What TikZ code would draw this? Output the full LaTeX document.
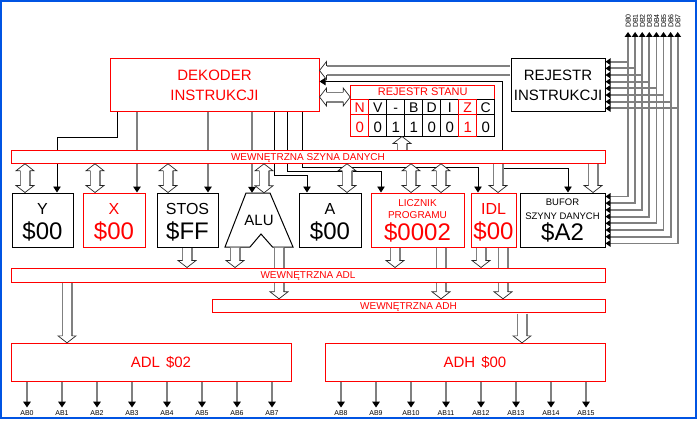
\documentclass[tikz,border=0pt]{standalone}
\usepackage{fontspec}
\setmainfont{Liberation Sans}
\usetikzlibrary{arrows.meta,calc}

\definecolor{ramka}{RGB}{0,84,227}
\newcommand{\fs}[1]{\fontsize{#1}{#1}\selectfont}

% wide bus arrow, head at #2
\newcommand{\fatarrow}[2]{%
  \path ($(#1)!0.5pt!(#2)$) coordinate (ta) ($(#2)!7pt!(#1)$) coordinate (hb);
  \path ($(ta)!4.7pt!90:(#2)$) coordinate (s1) ($(ta)!4.7pt!-90:(#2)$) coordinate (s2)
        ($(hb)!4.7pt!90:(#2)$) coordinate (b1) ($(hb)!4.7pt!-90:(#2)$) coordinate (b2)
        ($(hb)!9pt!90:(#2)$) coordinate (c1) ($(hb)!9pt!-90:(#2)$) coordinate (c2);
  \fill[white] (s1) -- (b1) -- (c1) -- (#2) -- (c2) -- (b2) -- (s2) -- cycle;
  \draw[shaft] (s1) -- (b1) (s2) -- (b2);
  \draw[head] (b1) -- (c1) -- (#2) -- (c2) -- (b2);
}
% wide bus arrow, heads at both ends
\newcommand{\fatboth}[2]{%
  \path ($(#1)!7pt!(#2)$) coordinate (ha) ($(#2)!7pt!(#1)$) coordinate (hb);
  \path ($(ha)!4.7pt!90:(#2)$) coordinate (a1) ($(ha)!4.7pt!-90:(#2)$) coordinate (a2)
        ($(ha)!9pt!90:(#2)$) coordinate (d1) ($(ha)!9pt!-90:(#2)$) coordinate (d2)
        ($(hb)!4.7pt!90:(#2)$) coordinate (b1) ($(hb)!4.7pt!-90:(#2)$) coordinate (b2)
        ($(hb)!9pt!90:(#2)$) coordinate (c1) ($(hb)!9pt!-90:(#2)$) coordinate (c2);
  \fill[white] (#1) -- (d1) -- (a1) -- (b1) -- (c1) -- (#2) -- (c2) -- (b2) -- (a2) -- (d2) -- cycle;
  \draw[shaft] (a1) -- (b1) (a2) -- (b2);
  \draw[head] (a1) -- (d1) -- (#1) -- (d2) -- (a2) (b1) -- (c1) -- (#2) -- (c2) -- (b2);
}

\tikzset{
  >={Triangle[length=6pt,width=7.5pt,color=black]},
  box/.style={draw=black, line width=1pt, fill=white, inner sep=0pt},
  rbox/.style={box, draw=red, text=red},
  bus/.style={rbox, font=\fs{10}, text height=7.2pt, text depth=0pt},
  cell/.style={box, minimum width=18pt, minimum height=15pt, font=\fs{14}, text height=12.4pt, text depth=0pt},
  val/.style={box, minimum width=18pt, minimum height=22pt, font=\fs{15}, text height=14.5pt, text depth=0pt},
  txt/.style={inner sep=0pt, anchor=base},
  ctl/.style={draw=black, line width=0.8pt},
  gline/.style={draw=gray, line width=1.8pt},
  shaft/.style={draw=gray, line width=1.6pt},
  head/.style={draw=black!85, line width=0.7pt},
}

\begin{document}
\begin{tikzpicture}[x=1pt,y=-1pt]
\useasboundingbox (0,0) rectangle (698,420);
\draw[ramka, line width=1.4pt] (1,1) rectangle (696,418);

% decoder and registers
\node[rbox, minimum width=209pt, minimum height=52pt, align=center, font=\fontsize{15}{20}\selectfont] (dek) at (214.5,85) {DEKODER\\INSTRUKCJI};
\node[box, minimum width=94pt, minimum height=52pt, align=center, font=\fontsize{15}{20}\selectfont] (rin) at (558,85) {REJESTR\\INSTRUKCJI};
\node[rbox, minimum width=144pt, minimum height=14pt, font=\fs{11}, text height=7.9pt, text depth=0pt] (rst) at (422.7,92) {REJESTR STANU};
\foreach \f/\v/\c/\i in {V/0/black/1,-/1/black/2,B/1/black/3,D/0/black/4,I/0/black/5,C/0/black/7,N/0/red/0,Z/1/red/6}{
  \node[cell, draw=\c, text=\c] (f\i) at (359.7+18*\i,106.5) {\f};
  \node[val, draw=\c, text=\c] (v\i) at (359.7+18*\i,125) {\v};
}

\foreach \nm/\xc/\w/\st in {y/42.5/61/box, x/114/62/rbox, stos/187.5/61/box, a/330/62/box, pc/417.5/93/rbox, idl/493.5/45/rbox, buf/562.5/85/box}{
  \node[\st, minimum width=\w pt, minimum height=54pt] (\nm) at (\xc,220) {};
}
\foreach \nm/\xc/\lab/\val/\c in {y/42.5/Y/\$00/black, x/114/X/\$00/red, stos/187.5/STOS/\$FF/black, a/330/A/\$00/black, idl/493.5/IDL/\$00/red}{
  \node[txt, font=\fs{16}, text=\c] (\nm l) at (\xc,214) {\lab};
  \node[txt, font=\fs{24}, text=\c] (\nm v) at (\xc,239.3) {\val};
}
\node[txt, font=\fs{10}, text=red] (pcl1) at (417.5,206) {LICZNIK};
\node[txt, font=\fs{10}, text=red] (pcl2) at (417.5,218.7) {PROGRAMU};
\node[txt, font=\fs{24}, text=red] (pcv) at (417.5,240) {\$0002};
\node[txt, font=\fs{9.5}] (bufl1) at (562.5,205.5) {BUFOR};
\node[txt, font=\fs{9.5}] (bufl2) at (562.5,219) {SZYNY DANYCH};
\node[txt, font=\fs{24}] (bufv) at (562.5,240) {\$A2};

% ALU
\draw[box] (246,193) -- (270,193) -- (293,247) -- (272.5,247) -- (261,234) -- (250,247) -- (225,247) -- cycle;
\node[inner sep=0pt, minimum width=68pt, minimum height=54pt] (alu) at (259,220) {};
\node[txt, font=\fs{15}] (alul) at (259,225) {ALU};

% control lines
\draw[ctl, ->] (dek.south -| 117.7,0) -- ++(0,26) -| (y.north -| 57,0);
\draw[gline, ->] (dek.south -| 137,0) -- (x.north -| 137,0);
\draw[gline, ->] (dek.south -| 208,0) -- (stos.north -| 208,0);
\draw[gline, ->] (dek.south -| 252,0) -- (alu.north -| 252,0);
\draw[ctl, ->] (dek.south -| 274,0) -- ++(0,64) -| (a.north -| 307,0);
\draw[ctl, ->] (dek.south -| 287.5,0) -- ++(0,60) -| (pc.north -| 381,0);
\draw[ctl, ->] (dek.south -| 302,0) -- ++(0,55.5) -| (idl.north -| 478,0);
\draw[ctl, <->] (dek.east |- 0,81.5) -| (502,168) -| (buf.north -| 568,0);

\node[bus, minimum width=594pt, minimum height=12.6pt] (dbus) at (308,157) {WEWNĘTRZNA SZYNA DANYCH};

% data bus pins
\foreach \i in {0,...,7}{
  \pgfmathsetmacro{\xx}{628+7.1*\i}
  \pgfmathsetmacro{\ya}{61.7+6.67*\i}
  \pgfmathsetmacro{\yb}{196.5+6.7*\i}
  \node[rotate=90, anchor=mid west, inner sep=0pt, font=\fs{7}] (db\i) at (\xx,28) {DB\i};
  \coordinate (dbt\i) at (\xx,32);
  \draw[gline, >={Triangle[length=5pt,width=6.6pt,color=black]}, <->] (dbt\i) -- (\xx,\yb) -- (buf.east |- 0,\yb);
  \draw[gline, >={Triangle[length=5pt,width=6.6pt,color=black]}, ->] (\xx,\ya) -- (rin.east |- 0,\ya);
}

% address buses
\node[bus, minimum width=393pt, minimum height=13.4pt] (adhbus) at (408.5,306) {WEWNĘTRZNA ADH};
\fatarrow{alu.south -| 279,0}{adhbus.north -| 279,0}
\fatarrow{pc.south -| 441,0}{adhbus.north -| 441,0}
\fatarrow{idl.south -| 503,0}{adhbus.north -| 503,0}
\node[bus, minimum width=594pt, minimum height=14pt] (adlbus) at (308,275) {WEWNĘTRZNA ADL};

% bus arrows
\fatarrow{rin.west |- 0,70.5}{dek.east |- 0,70.5}
\fatboth{dek.east |- 0,97}{rst.west |- 0,97}
\fatarrow{dbus.north -| 402,0}{v3.south -| 402,0}
\foreach \b/\xx in {y/25, x/95, stos/168, alu/264, a/347, pc/411, pc/441}{
  \fatboth{dbus.south -| \xx,0}{\b.north -| \xx,0}
}
\fatarrow{dbus.south -| 498,0}{idl.north -| 498,0}
\fatarrow{dbus.south -| 593,0}{buf.north -| 593,0}
\foreach \b/\xx in {stos/187, alu/235, pc/395, idl/481}{
  \fatarrow{\b.south -| \xx,0}{adlbus.north -| \xx,0}
}

\node[rbox, minimum width=280pt, minimum height=37.7pt] (adl) at (151,362.2) {};
\node[rbox, minimum width=280pt, minimum height=37.7pt] (adh) at (465,362.2) {};
\node[inner sep=0pt, font=\fs{15}, text=red, text height=10.7pt, text depth=0pt] (adlt) at (161,362) {ADL\hspace{0.4em}\$02};
\node[inner sep=0pt, font=\fs{15}, text=red, text height=10.7pt, text depth=0pt] (adht) at (475,362) {ADH\hspace{0.4em}\$00};
\fatarrow{adlbus.south -| 67,0}{adl.north -| 67,0}
\fatarrow{adhbus.south -| 522,0}{adh.north -| 522,0}

% address pins
\foreach \i in {0,...,7}{
  \draw[gline, ->] (adl.south -| 27+35*\i,0) -- ++(0,26);
  \node[txt, font=\fs{7}] (ab\i) at (27+35*\i,415) {AB\i};
}
\foreach \i in {0,...,7}{
  \pgfmathtruncatemacro{\nab}{\i+8}
  \draw[gline, ->] (adh.south -| 341+35*\i,0) -- ++(0,26);
  \node[txt, font=\fs{7}] (ab\nab) at (341+35*\i,415) {AB\nab};
}
\end{tikzpicture}
\end{document}
